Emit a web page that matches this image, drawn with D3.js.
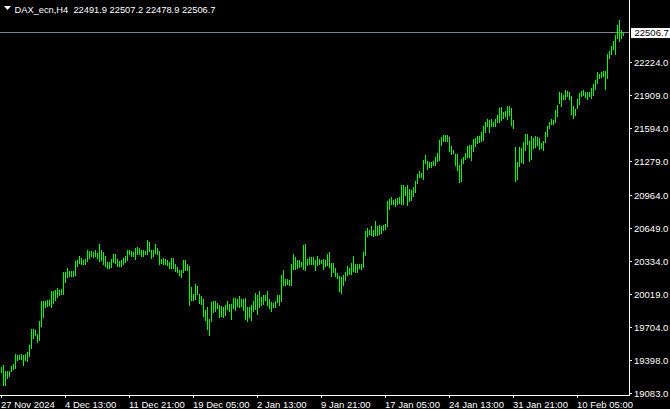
<!DOCTYPE html>
<html><head><meta charset="utf-8">
<script src="https://cdn.jsdelivr.net/npm/d3@7"></script>
<style>
html,body{margin:0;padding:0;background:#000;overflow:hidden}
svg{display:block}
</style></head><body>
<svg id="c" width="670" height="409"></svg>
<script>
const symbol = "DAX_ecn,H4";
const lastBar = [22491.9, 22507.2, 22478.9, 22506.7]; // open high low close
const bidPrice = 22506.7;

const high = [
19320,19346,19282,19282,19288,19336,19355,19450,19440,19440,
19445,19440,19450,19463,19535,19687,19687,19678,19640,19757,
19953,19953,19947,19957,19957,20048,20042,20052,20074,20058,
20062,20226,20226,20264,20232,20232,20230,20327,20343,20381,
20359,20343,20352,20432,20428,20422,20413,20432,20406,20486,
20432,20413,20375,20321,20321,20352,20400,20391,20352,20327,
20337,20359,20381,20432,20432,20422,20416,20454,20463,20454,
20432,20432,20422,20533,20511,20438,20432,20486,20448,20422,
20352,20359,20349,20334,20321,20359,20359,20296,20270,20248,
20239,20334,20343,20305,20277,20080,20017,20115,20090,20017,
20001,19972,19868,19890,19782,19938,19947,19953,19931,19915,
19900,19890,19915,19953,19925,19925,19979,19979,19972,20001,
19972,19972,19979,19890,19893,19915,19947,20026,20004,20042,
19985,20010,20010,20042,19972,19938,19931,19953,20010,20010,
20200,20248,20162,20162,20153,20296,20400,20365,20343,20334,
20321,20479,20495,20352,20365,20365,20365,20334,20375,20352,
20343,20352,20343,20400,20413,20311,20311,20264,20216,20191,
20175,20194,20226,20280,20264,20311,20375,20305,20305,20305,
20302,20413,20618,20644,20628,20660,20628,20707,20666,20675,
20660,20675,20685,20897,20922,20935,20913,20922,20929,20935,
21055,21049,21030,21055,21017,21008,21030,21093,21157,21182,
21166,21293,21340,21277,21271,21271,21283,21318,21356,21477,
21508,21524,21530,21530,21505,21420,21388,21347,21347,21239,
21302,21315,21356,21420,21435,21429,21486,21496,21521,21512,
21553,21607,21645,21676,21670,21676,21654,21679,21717,21787,
21790,21749,21755,21803,21803,21781,21670,21416,21274,21416,
21401,21464,21537,21537,21473,21512,21496,21521,21505,21496,
21448,21473,21550,21616,21654,21676,21670,21765,21812,21933,
21923,21907,21949,21945,21939,21892,21803,21771,21866,21923,
21945,21949,21933,21939,21939,21977,22009,22050,22120,22107,
22120,22129,22129,22294,22319,22367,22414,22477,22566,22620,
22525,22507.2
];

const low = [
19273,19149,19149,19219,19235,19282,19304,19314,19387,19399,
19395,19346,19387,19377,19425,19504,19599,19630,19561,19577,
19710,19798,19893,19900,19915,19893,19931,19957,19988,20010,
20015,20017,20131,20178,20191,20191,20190,20194,20280,20311,
20302,20296,20302,20327,20359,20375,20368,20381,20359,20327,
20343,20302,20286,20258,20264,20273,20321,20311,20280,20280,
20286,20296,20321,20337,20391,20381,20375,20349,20391,20391,
20381,20375,20391,20391,20422,20359,20381,20406,20391,20305,
20311,20296,20296,20289,20258,20258,20264,20232,20223,20194,
20175,20223,20239,20239,19915,19957,19963,19969,20017,19931,
19925,19811,19773,19687,19630,19757,19846,19852,19884,19795,
19811,19795,19820,19877,19858,19782,19884,19868,19906,19893,
19900,19868,19779,19757,19798,19773,19852,19877,19830,19893,
19915,19925,19963,19915,19884,19858,19890,19893,19941,19915,
19947,20105,20105,20112,20099,20105,20254,20254,20264,20270,
20286,20254,20239,20289,20296,20296,20302,20248,20289,20305,
20311,20257,20280,20289,20270,20185,20226,20185,20169,20048,
20026,20105,20153,20200,20207,20207,20232,20223,20223,20264,
20257,20273,20390,20571,20587,20580,20571,20574,20580,20587,
20596,20622,20634,20660,20824,20875,20872,20850,20872,20881,
20875,20875,20960,20859,20897,20907,20951,20983,21071,21128,
21125,21112,21261,21207,21220,21220,21239,21245,21277,21293,
21435,21467,21473,21467,21372,21347,21356,21245,21198,21078,
21093,21261,21302,21315,21315,21293,21375,21426,21448,21458,
21470,21480,21550,21607,21559,21607,21616,21616,21654,21654,
21670,21692,21708,21679,21717,21622,21597,21093,21106,21233,
21274,21258,21385,21439,21280,21296,21401,21416,21432,21394,
21401,21385,21464,21512,21591,21632,21629,21654,21711,21828,
21797,21866,21866,21892,21869,21724,21686,21717,21781,21819,
21901,21907,21885,21869,21892,21876,21907,21964,22018,22066,
22072,22082,21961,22066,22256,22294,22341,22297,22446,22420,
22446,22478.9
];

const timeTickIndex = [0, 32, 64, 96, 128, 160, 192, 224, 256, 288];
const timeTickLabels = ["27 Nov 2024", "4 Dec 13:00", "11 Dec 21:00", "19 Dec 05:00", "2 Jan 13:00",
  "9 Jan 21:00", "17 Jan 05:00", "24 Jan 13:00", "31 Jan 21:00", "10 Feb 05:00"];
const priceTicks = [22224, 21909, 21594, 21279, 20964, 20649, 20334, 20019, 19704, 19398, 19083];

const FONT = '"Liberation Sans", Arial, sans-serif';
const plotRight = 629, plotBottom = 395;
const n = high.length;

const svg = d3.select("#c");
svg.append("rect").attr("width", 670).attr("height", 409).attr("fill", "#000");

const x = d3.scaleLinear().domain([0, n - 1]).range([1, 1 + 2 * (n - 1)]);
const y = d3.scaleLinear().domain([19061.3, 22812.8]).range([plotBottom, 0]);
const yr = y.copy().interpolate(d3.interpolateRound);

// bid line
const by = Math.round(y(bidPrice)) + 0.5;
svg.append("line").attr("x1", 0).attr("x2", plotRight).attr("y1", by).attr("y2", by)
  .attr("stroke", "#778899").attr("stroke-width", 1).attr("shape-rendering", "crispEdges");

// bars
svg.append("g").selectAll("line").data(d3.range(n)).join("line")
  .attr("x1", i => x(i) + 0.5).attr("x2", i => x(i) + 0.5)
  .attr("y1", i => Math.floor(y(high[i])))
  .attr("y2", i => Math.floor(y(low[i])) + 1)
  .attr("stroke", "#00ff00").attr("stroke-width", 1)
  .attr("shape-rendering", "crispEdges");

// right price axis
const gy = svg.append("g").attr("transform", `translate(${plotRight},0)`)
  .call(d3.axisRight(yr).tickValues(priceTicks).tickSize(3).tickSizeOuter(0).tickPadding(2)
    .tickFormat(d => d.toFixed(1)));
gy.select(".domain").remove();
gy.attr("font-family", FONT).attr("font-size", 9.5);
gy.selectAll(".tick line").attr("stroke", "#fff").attr("shape-rendering", "crispEdges");
gy.selectAll(".tick text").attr("fill", "#fff");

// bottom time axis
const gx = svg.append("g").attr("transform", `translate(0,${plotBottom})`)
  .call(d3.axisBottom(x).tickValues(timeTickIndex).tickSize(3).tickSizeOuter(0).tickPadding(3)
    .tickFormat((d, i) => timeTickLabels[i]));
gx.select(".domain").remove();
gx.attr("font-family", FONT).attr("font-size", 9.5);
gx.selectAll(".tick line").attr("stroke", "#fff").attr("shape-rendering", "crispEdges");
gx.selectAll(".tick text").attr("fill", "#fff").attr("text-anchor", "start").attr("x", -0.5);

// frame lines
svg.append("line").attr("x1", plotRight + 0.5).attr("x2", plotRight + 0.5).attr("y1", 0).attr("y2", plotBottom + 1)
  .attr("stroke", "#fff").attr("shape-rendering", "crispEdges");
svg.append("line").attr("x1", 0).attr("x2", plotRight + 1).attr("y1", plotBottom + 0.5).attr("y2", plotBottom + 0.5)
  .attr("stroke", "#fff").attr("shape-rendering", "crispEdges");

// current price label
svg.append("rect").attr("x", plotRight + 2).attr("y", by - 4.5).attr("width", 670 - plotRight - 2).attr("height", 10)
  .attr("fill", "#fff");
svg.append("text").attr("x", plotRight + 5.5).attr("y", by + 3.3)
  .attr("font-family", FONT).attr("font-size", 9.5).attr("fill", "#000")
  .text(bidPrice.toFixed(1));

// header
svg.append("path").attr("d", "M4,6 L11,6 L7.5,10 Z").attr("fill", "#fff");
svg.append("text").attr("x", 14.5).attr("y", 12.5)
  .attr("font-family", FONT).attr("font-size", 9.3).attr("fill", "#fff")
  .attr("xml:space", "preserve").style("white-space", "pre")
  .attr("textLength", 201).attr("lengthAdjust", "spacingAndGlyphs")
  .text(symbol + "  " + lastBar.map(v => v.toFixed(1)).join(" "));
</script>
</body></html>
